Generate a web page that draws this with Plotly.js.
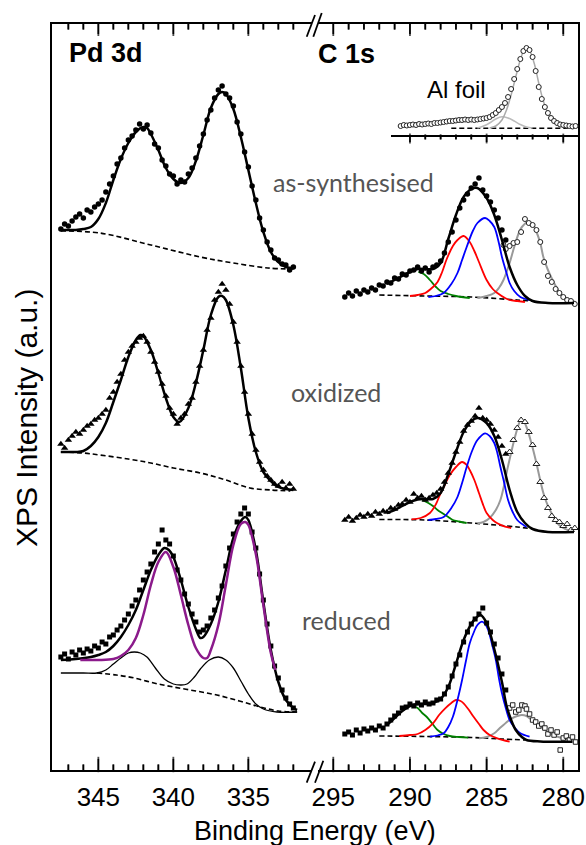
<!DOCTYPE html>
<html><head><meta charset="utf-8">
<script src="https://cdn.plot.ly/plotly-3.0.1.min.js"></script>
<style>html,body{margin:0;padding:0;background:#fff}#chart{width:586px;height:845px}</style>
</head><body><div id="chart"></div>
<script>
// ---------- Pd 3d (binding energy, eV ; intensity, a.u. with stacking offsets) ----------
const pdE = [347.5,347.25,347,346.75,346.5,346.25,346,345.75,345.5,345.25,345,344.75,344.5,344.25,344,343.75,343.5,343.25,343,342.75,342.5,342.25,342,341.75,341.5,341.25,341,340.75,340.5,340.25,340,339.75,339.5,339.25,339,338.75,338.5,338.25,338,337.75,337.5,337.25,337,336.75,336.5,336.25,336,335.75,335.5,335.25,335,334.75,334.5,334.25,334,333.75,333.5,333.25,333,332.75,332.5,332.25,332];
const pdAsData = [541,546,544,549,553,556,552,560,558,563,566,570,578,586,594,606,612,622,630,634,640,646,641,645,637,626,622,610,604,596,594,586,590,588,596,602,612,624,636,650,660,672,680,684,676,672,664,648,636,618,603,584,570,552,540,528,520,512,510,506,505,500,503];
const pdOxData = [326,322,330,334,338,336,340,344,346,350,352,356,360,372,378,388,396,410,418,424,428,432,434,428,418,408,398,386,374,362,356,346,352,356,366,372,388,404,420,440,452,470,478,486,480,466,448,428,404,378,356,336,320,308,300,294,290,286,284,288,282,286,281];
const pdRedData = [113,116,111,118,115,120,117,121,119,124,122,128,126,133,135,140,144,150,156,164,170,180,190,198,206,218,226,240,230,226,214,200,190,176,166,156,148,138,140,144,152,160,172,184,204,222,236,248,256,262,256,238,222,196,170,146,124,104,92,80,72,66,62];

const pdAsFitE = [347.5,347,346.5,346,345.5,345,344.5,344,343.5,343,342.5,342,341.75,341.5,341,340.5,340,339.5,339,338.5,338,337.5,337,336.75,336.5,336,335.5,335,334.5,334,333.5,333,332.5,332];
const pdAsFitI = [540,540,540,541,543,551,567,590,611,627,638,643,642,636,620,602,591,587,592,609,635,662,676,678,676,661,633,600,567,538,518,508,503,502];
const pdAsBaseE = [347.5,344.9,341.5,338.2,336,333.7,332];
const pdAsBaseI = [539,537,525,513,507,502,501];

const pdOxFitE = [347.5,347,346.5,346,345.5,345,344.5,344,343.5,343,342.5,342.2,342,341.5,341,340.5,340,339.6,339,338.5,338,337.5,337,336.75,336.5,336,335.5,335,334.5,334,333.5,333,332.5,332];
const pdOxFitI = [318,318,318,319,324,333,347,368,390,413,430,435,434,420,397,372,353,348,362,387,420,455,473,474,470,445,402,352,318,298,289,283,281,280];
const pdOxBaseE = [347.5,346,344.9,343,341.5,340,338.2,336.5,334.9,333.5,332.2];
const pdOxBaseI = [318,317,315,311,307,302,297,290,282,280,279];

const pdRedEnvE = [347.5,346.5,345.5,345,344.5,344,343.5,343,342.5,342,341.5,341,340.6,340.3,340,339.5,339,338.5,338.2,338,337.5,337,336.5,336,335.5,335.2,335,334.5,334,333.5,333,332.5,332,331.75];
const pdRedEnvI = [110,111,113,115,118,124,133,145,160,180,200,215,222,220,213,190,163,141,132,133,146,168,200,232,249,253,250,220,168,120,88,70,62,60];
const pdRedMetalE = [346.2,345,344,343.5,343,342.5,342,341.5,341,340.5,340,339.5,339,338.5,338,337.75,337.5,337,336.5,336,335.5,335.2,335,334.5,334,333.5,333.2];
const pdRedMetalI = [110,110,111,114,120,132,155,185,208,218,203,175,145,122,112,112,120,145,185,225,246,248,245,216,165,117,100];
const pdRedOxE = [347.5,346,345.1,344.5,344,343.5,343,342.6,342.2,341.76,341.2,340.6,340,339.5,339.09,338.6,338.2,337.6,337,336.5,336,335.5,335,334.5,334,333.1,331.75];
const pdRedOxI = [97,97,97,100,106,112,117,118,117,113,102,91,86,85,86,93,101,110,113,110,102,89,76,66,61,58,58];
const pdRedBaseE = [345.1,343.8,342.6,341.3,340,338.5,337.1,335.6,334.2,333,331.75];
const pdRedBaseI = [97,95,92,87,83,79,75,69,63,59,58];

// ---------- C 1s ----------
const cE = [294.25,294,293.75,293.5,293.25,293,292.75,292.5,292.25,292,291.75,291.5,291.25,291,290.75,290.5,290.25,290,289.75,289.5,289.25,289,288.75,288.5,288.25,288,287.75,287.5,287.25,287,286.75,286.5,286.25,286,285.75,285.5,285.25,285,284.75,284.5,284.25,284,283.75];
const cAsData = [473,477,474,479,476,480,478,482,480,485,484,488,487,492,491,496,495,499,500,503,499,502,498,503,505,509,517,528,538,550,562,570,576,582,586,592,580,574,568,560,552,540,530];
const cOxData = [250,253,249,252,255,253,256,254,258,256,259,258,262,261,265,266,270,268,276,272,274,270,272,275,277,281,288,297,307,318,328,339,345,349,354,362,352,350,346,340,333,324,316];
const cRedData = [36,38,35,40,37,41,39,42,40,44,42,46,50,54,57,62,63,66,64,67,65,68,66,67,70,71,76,83,94,106,115,128,138,146,151,156,162,147,138,126,112,96,80];

const cAsOpenE = [283.9,283.75,283.5,283.25,283,282.75,282.5,282.25,282,281.75,281.5,281.25,281,280.75,280.5,280.25,280,279.75,279.5,279.25];
const cAsOpenI = [525,521,524,527,528,538,551,547,545,540,528,508,494,488,481,477,473,470,469,466];
const cOxOpenE = [283.5,283.25,283,282.75,282.5,282.25,282,281.75,281.5,281.25,281,280.75,280.5,280.25,280,279.75,279.5,279.25];
const cOxOpenI = [318,330,342,350,348,338,325,306,288,272,262,254,250,248,244,246,240,242];
const cRedOpenE = [283.5,283.3,283.1,282.9,282.7,282.5,282.4,282.2,282,281.8,281.6,281.4,281.2,281,280.8,280.6,280.4,280.2,280,279.8,279.6,279.4,279.2];
const cRedOpenI = [62,65,58,60,65,64,61,56,50,48,44,46,42,36,40,35,38,20,32,34,30,33,28];

// as-synthesised fit
const cAsEnvE = [291.5,291,290.5,290,289.5,289,288.5,288,287.5,287,286.5,286,285.6,285,284.5,284,283.5,283,282.5,282,281,279.3];
const cAsEnvI = [486,490,494,498,501,501,501,507,531,555,573,581,582,572,555,530,503,485,474,469,467,467];
const cAsGreenE = [289.45,289.1,288.7,288.3,288,287.5,287,286.1];
const cAsGreenI = [498,496,490,483,479,476,474,472];
const cAsRedE = [290,289.5,289,288.5,288.2,287.9,287.6,287.2,286.9,286.5,286.1,285.8,285.5,285,284.6,284.3,283.8,283.5,283,282.5];
const cAsRedI = [474,475,477,483,488,498,511,524,530,534,528,519,508,490,481,477,472,470,469,468];
const cAsBlueE = [288.8,288.3,287.8,287.3,286.9,286.6,286.3,285.9,285.6,285.1,284.8,284.5,284.2,284,283.7,283.5,283.2,282.8,282.2];
const cAsBlueI = [473,474,477,486,497,510,523,539,547,552,549,543,527,513,497,487,479,473,470];
const cAsGreyE = [285.6,285,284.5,284.2,283.9,283.5,283.2,282.9,282.7,282.3,282,281.8,281.5,281.3,281,280.7,280.3,280,279.6,279.2];
const cAsGreyI = [472,474,477,482,490,507,523,537,543,548,546,540,527,513,500,490,479,473,470,468];
const cAsBaseE = [292,289,286,283,282];
const cAsBaseI = [475,474,473,470,469];

// oxidized fit
const cOxEnvE = [291.5,291,290.5,290,289.5,289,288.5,288,287.5,287,286.5,286,285.6,285,284.5,284,283.5,283,282.5,282,281,279.3];
const cOxEnvI = [257,260,264,268,270.5,271,271,277,296,318,338,349,352,347,334,310,280,258,247,241,238,238];
const cOxGreenE = [289.2,288.8,288.5,288.2,287.8,287.5,287.2,286.8,286.3];
const cOxGreenI = [270,267,264,260,256,253,250,248.5,247];
const cOxRedE = [289.9,289.3,288.7,288.3,288,287.8,287.4,287,286.6,286.3,286.1,285.8,285.5,285.2,285,284.6,284.3,283.8,283.4];
const cOxRedI = [250.7,252,257,266,277,283,295,303,308,305,300,290,277,264,257,250,246.7,243.3,242];
const cOxBlueE = [288.8,288.3,287.8,287.3,286.9,286.6,286.3,285.95,285.6,285.1,284.8,284.5,284.3,284.1,283.85,283.6,283.3,283,282.4];
const cOxBlueI = [250,251,253,262,273,287,303,319,330,336.7,334,327,317,303,287,270,258,250,243];
const cOxGreyE = [285.6,285.2,284.8,284.4,284.1,283.9,283.7,283.45,283.2,283,282.8,282.6,282.4,282.1,281.8,281.55,281.3,281,280.7,280.4,280,279.3];
const cOxGreyI = [246.7,248,252,260,270,282,297,314,330,341,349,349,343,328,310,293,277,264,255,247,242,238];
const cOxBaseE = [292,289,286,283,282];
const cOxBaseI = [250.5,250,247,243,241];

// reduced fit
const cRedEnvE = [291.5,291,290.5,290,289.5,289,288.5,288,287.5,287,286.5,286,285.7,285.4,285,284.5,284,283.7,283.4,283.1,282.7,282.4,281.5,279.4];
const cRedEnvI = [45,52,59,64,66,66,67,71,83,106,130,146,152,155,147,121,88,64,50,40,33,30,28.5,28.3];
const cRedGreenE = [289.9,289.5,289.2,288.9,288.5,288.2,287.8,287.4,286.8,286.2];
const cRedGreenI = [65,62,57,53,45.5,40,36,34,33,32.3];
const cRedRedE = [290.7,290,289.5,289,288.5,288.1,287.7,287.3,287,286.7,286.5,286.2,285.85,285.5,285.2,284.8,284.3,283.5];
const cRedRedI = [34,35,36,40,46.7,55,61.7,67,70,69,66.7,61,53.3,46,40,35,31.7,28.3];
const cRedBlueE = [288.7,288.2,287.8,287.5,287.2,286.9,286.6,286.35,286.1,285.8,285.6,285.3,285.1,284.9,284.65,284.4,284.2,284,283.75,283.5,283.15,282.8,282.2];
const cRedBlueI = [33.3,34.5,36.7,43,53.3,70,90,109,126.7,139,145,148.3,146,140,126,110,92,76.7,62,50,42,36.7,33.3];
const cRedGreyE = [285.5,285,284.5,284.2,283.9,283.6,283.35,283,282.7,282.4,282.2,281.85,281.5,281.2,280.85,280.4,280,279.4];
const cRedGreyI = [31.7,33,36.7,41,45,49,51.7,54,55,54,51.7,47.5,43.3,40,36.7,33.5,31.7,30];
const cRedBaseE = [292,289,286,284,282.5];
const cRedBaseI = [34,33.5,32.5,31,30];

// ---------- Al foil inset ----------
const alE = [290.6,290.4,290.2,290,289.8,289.6,289.4,289.2,289,288.8,288.6,288.4,288.2,288,287.8,287.6,287.4,287.2,287,286.8,286.6,286.4,286.2,286,285.8,285.6,285.4,285.2,285,284.8,284.6,284.4,284.2,284,283.8,283.6,283.4,283.2,283,282.8,282.6,282.4,282.2,282,281.8,281.6,281.4,281.2,281,280.8,280.6,280.4,280.2,280,279.8,279.6,279.4,279.2];
const alData = [9,10,9.5,10,10.5,10,11,10.5,11,11.5,11,12,12,12.5,13,13.5,14,14,14.5,15,15,15.5,15,15.5,15,15.5,16,16.5,17,18,20,22,25,28,32,38,46,56,66,76,84,87,85,78,64,48,36,28,22,17,14,12,10.5,10,9.5,9,8.5,9];
const alSmallE = [285.6,285.2,284.8,284.4,284,283.6,283.2,282.8,282.4,282];
const alSmallI = [7,9,12,16,18.3,17,14,10.5,8,7];
const alMainE = [284.8,284.4,284,283.7,283.4,283.1,282.8,282.5,282.2,281.9,281.6,281.3,281,280.6,280.2,279.8,279.4];
const alMainI = [7,9,15,25,40,58,75,86,84,72,52,34,22,13,9,7.5,7];
const alBaseE = [287.3,279.4];
const alBaseI = [6.7,6.7];

// ---------- labels / ticks ----------
const pdTickLabels = [345,340,335];
const cTickLabels = [295,290,285,280];
const sampleLabels = ['as-synthesised','oxidized','reduced'];

// ---------- drawing ----------
const W = 586, H = 845;
const px = v => v / W, py = v => 1 - v / H;
const FONT = 'Liberation Sans, Arial, sans-serif';
const RANGE_PD = [348.09, 330.79], RANGE_C = [296.01, 279.04], RANGE_INSET = [291.23, 279.04];
const PX_PD = [52, 311.5], PX_C = [317.8, 578], PX_IN = [391, 578];
const DOM_PD = PX_PD.map(px), DOM_C = PX_C.map(px), DOM_IN = PX_IN.map(px);
const Y_TOP = 746; // main y range [0, 746] spans the 746 px plot height

function line(x, y, color, width, ax, dash, shape) {
  return {x, y, type:'scatter', mode:'lines', xaxis:ax[0], yaxis:ax[1], hoverinfo:'skip',
    line:{color, width, dash: dash || 'solid', shape: shape || 'spline', smoothing: 1}};
}
function pts(x, y, symbol, size, ax, open) {
  return {x, y, type:'scatter', mode:'markers', xaxis:ax[0], yaxis:ax[1], hoverinfo:'skip', cliponaxis:false,
    marker:{symbol, size, color: open ? '#ffffff' : '#000000', line:{color: open ? '#222222' : '#000000', width: open ? 1 : 0}}};
}
const L = ['x','y'], R = ['x2','y2'], I = ['x3','y3'];
const DASH = '5px,3px';
const GREEN = '#008000', RED = '#ff0000', BLUE = '#0000ff', GREY = '#999999', PURPLE = '#8b1a8b';

// axis tick marks (every 1 eV, long at multiples of 5), drawn as vertical-bar markers and as line segments
function tickMarkers(ax, eFrom, eTo, segs) {
  const x = [], y = [], size = [];
  for (let e = eFrom; e >= eTo; e--) {
    const major = (e % 5 === 0);
    segs.forEach(s => {
      const len = major ? s.maj : s.min;
      x.push(e); y.push(s.base + s.dir * len / 2); size.push(len);
    });
  }
  return {x, y, type:'scatter', mode:'markers', xaxis:ax[0], yaxis:ax[1], hoverinfo:'skip', cliponaxis:false,
    marker:{symbol:'line-ns', size, color:'#000', line:{color:'#000', width:1.8}}};
}
function tickLines(ax, eFrom, eTo, segs) {
  const x = [], y = [];
  for (let e = eFrom; e >= eTo; e--) {
    const major = (e % 5 === 0);
    segs.forEach(s => { x.push(e, e, null); y.push(s.base, s.base + s.dir * (major ? s.maj : s.min), null); });
  }
  return {x, y, type:'scatter', mode:'lines', xaxis:ax[0], yaxis:ax[1], hoverinfo:'skip', connectgaps:false,
    line:{color:'#000', width:1.6, simplify:false}};
}
const frameSegs = [{base:0, dir:1, maj:11, min:5}, {base:Y_TOP, dir:-1, maj:10, min:5}];
const insetSegs = [{base:770 - 135, dir:-1, maj:7, min:4}]; // below the inset axis line (pixel row 135)

const traces = [
  // Pd as-synthesised
  line(pdAsBaseE, pdAsBaseI, '#000', 1.6, L, DASH),
  pts(pdE, pdAsData, 'circle', 5.5, L),
  line(pdAsFitE, pdAsFitI, '#000', 2.5, L),
  // Pd oxidized
  line(pdOxBaseE, pdOxBaseI, '#000', 1.6, L, DASH),
  pts(pdE, pdOxData, 'triangle-up', 6.5, L),
  line(pdOxFitE, pdOxFitI, '#000', 2.5, L),
  // Pd reduced
  line(pdRedBaseE, pdRedBaseI, '#000', 1.6, L, DASH),
  line(pdRedOxE, pdRedOxI, '#000', 1.3, L),
  pts(pdE, pdRedData, 'square', 5, L),
  line(pdRedEnvE, pdRedEnvI, '#000', 2.5, L),
  line(pdRedMetalE, pdRedMetalI, PURPLE, 2.5, L),

  // C 1s as-synthesised
  line(cAsBaseE, cAsBaseI, '#000', 1.6, R, DASH),
  line(cAsGreyE, cAsGreyI, GREY, 2, R),
  pts(cAsOpenE, cAsOpenI, 'circle', 5, R, true),
  line(cAsGreenE, cAsGreenI, GREEN, 1.8, R),
  line(cAsRedE, cAsRedI, RED, 1.8, R),
  line(cAsBlueE, cAsBlueI, BLUE, 1.8, R),
  pts(cE, cAsData, 'circle', 5.5, R),
  line(cAsEnvE, cAsEnvI, '#000', 2.5, R),
  // C 1s oxidized
  line(cOxBaseE, cOxBaseI, '#000', 1.6, R, DASH),
  line(cOxGreyE, cOxGreyI, GREY, 2, R),
  pts(cOxOpenE, cOxOpenI, 'triangle-up', 6, R, true),
  line(cOxGreenE, cOxGreenI, GREEN, 1.8, R),
  line(cOxRedE, cOxRedI, RED, 1.8, R),
  line(cOxBlueE, cOxBlueI, BLUE, 1.8, R),
  pts(cE, cOxData, 'triangle-up', 6.5, R),
  line(cOxEnvE, cOxEnvI, '#000', 2.5, R),
  // C 1s reduced
  line(cRedBaseE, cRedBaseI, '#000', 1.6, R, DASH),
  line(cRedGreyE, cRedGreyI, GREY, 2, R),
  pts(cRedOpenE, cRedOpenI, 'square', 4.5, R, true),
  line(cRedGreenE, cRedGreenI, GREEN, 1.8, R),
  line(cRedRedE, cRedRedI, RED, 1.8, R),
  line(cRedBlueE, cRedBlueI, BLUE, 1.8, R),
  pts(cE, cRedData, 'square', 5, R),
  line(cRedEnvE, cRedEnvI, '#000', 2.5, R),

  // Al foil inset
  line(alBaseE, alBaseI, '#000', 1.6, I, DASH, 'linear'),
  line(alSmallE, alSmallI, '#bbbbbb', 1.5, I),
  line(alMainE, alMainI, '#aaaaaa', 1.5, I),
  pts(alE, alData, 'circle', 5, I, true),

  // tick marks
  tickLines(L, 347, 332, frameSegs),
  tickLines(R, 295, 280, frameSegs),
  tickLines(R, 290, 280, insetSegs),
  tickMarkers(L, 347, 332, frameSegs),
  tickMarkers(R, 295, 280, frameSegs),
  tickMarkers(R, 290, 280, insetSegs)
];

const breakShapes = [
  [306.7,36.7,315,15],[313.3,36.7,321.7,13],
  [306.7,782.7,315,761.7],[315,782.7,323.3,760.7]
].map(s => ({type:'line', xref:'paper', yref:'paper', x0:px(s[0]), y0:py(s[1]), x1:px(s[2]), y1:py(s[3]),
  line:{color:'#000', width:1.8}}));

const tickfont = {family: FONT, size: 26, color: '#000'};
function xMajor(vals) {
  return {showline:true, linecolor:'#000', linewidth:2, mirror:true, ticks:'inside', ticklen:11, tickwidth:1.5,
    tickcolor:'rgba(0,0,0,0)', tickfont, showgrid:false, zeroline:false, tickmode:'array', tickvals:vals, ticklabelstandoff:3};
}

const layout = {
  width: W, height: H, margin:{l:0, r:0, t:0, b:0}, showlegend:false,
  paper_bgcolor:'#fff', plot_bgcolor:'rgba(0,0,0,0)',
  xaxis: Object.assign(xMajor(pdTickLabels), {domain:DOM_PD, range:RANGE_PD, anchor:'y'}),
  xaxis2: Object.assign(xMajor(cTickLabels), {domain:DOM_C, range:RANGE_C, anchor:'y2'}),
  yaxis: {domain:[py(770), py(24)], range:[0, Y_TOP], anchor:'x', showline:true, linecolor:'#000', linewidth:2,
    ticks:'', showticklabels:false, showgrid:false, zeroline:false},
  yaxis2: {domain:[py(770), py(24)], range:[0, Y_TOP], anchor:'x2', side:'right', showline:true, linecolor:'#000', linewidth:2,
    ticks:'', showticklabels:false, showgrid:false, zeroline:false},
  xaxis3: {domain:DOM_IN, range:RANGE_INSET, anchor:'y3', showline:true, linecolor:'#000', linewidth:1.5,
    ticks:'', showticklabels:false, showgrid:false, zeroline:false},
  yaxis3: {domain:[py(135), py(24)], range:[0, 111], anchor:'x3', visible:false},
  annotations: [
    {text:'<b>Pd 3d</b>', x:px(106), y:py(53), font:{family:FONT, size:27, color:'#000'}},
    {text:'<b>C 1s</b>', x:px(346.5), y:py(54), font:{family:FONT, size:27, color:'#000'}},
    {text:'Al foil', x:px(456), y:py(89), font:{family:FONT, size:24, color:'#000'}},
    {text:sampleLabels[0], x:px(353), y:py(182), font:{family:'Lato, sans-serif', size:25, color:'#555555'}},
    {text:sampleLabels[1], x:px(336), y:py(392), font:{family:'Lato, sans-serif', size:25, color:'#555555'}},
    {text:sampleLabels[2], x:px(346), y:py(620), font:{family:'Lato, sans-serif', size:25, color:'#555555'}},
    {text:'Binding Energy (eV)', x:px(315), y:py(831), font:{family:FONT, size:27, color:'#000'}},
    {text:'XPS Intensity (a.u.)', x:px(27), y:py(418), textangle:-90, font:{family:FONT, size:30, color:'#000'}}
  ].map(a => Object.assign({xref:'paper', yref:'paper', showarrow:false, xanchor:'center', yanchor:'middle'}, a)),
  shapes: breakShapes
};

Plotly.newPlot('chart', traces, layout, {staticPlot:true, displayModeBar:false});
</script></body></html>
